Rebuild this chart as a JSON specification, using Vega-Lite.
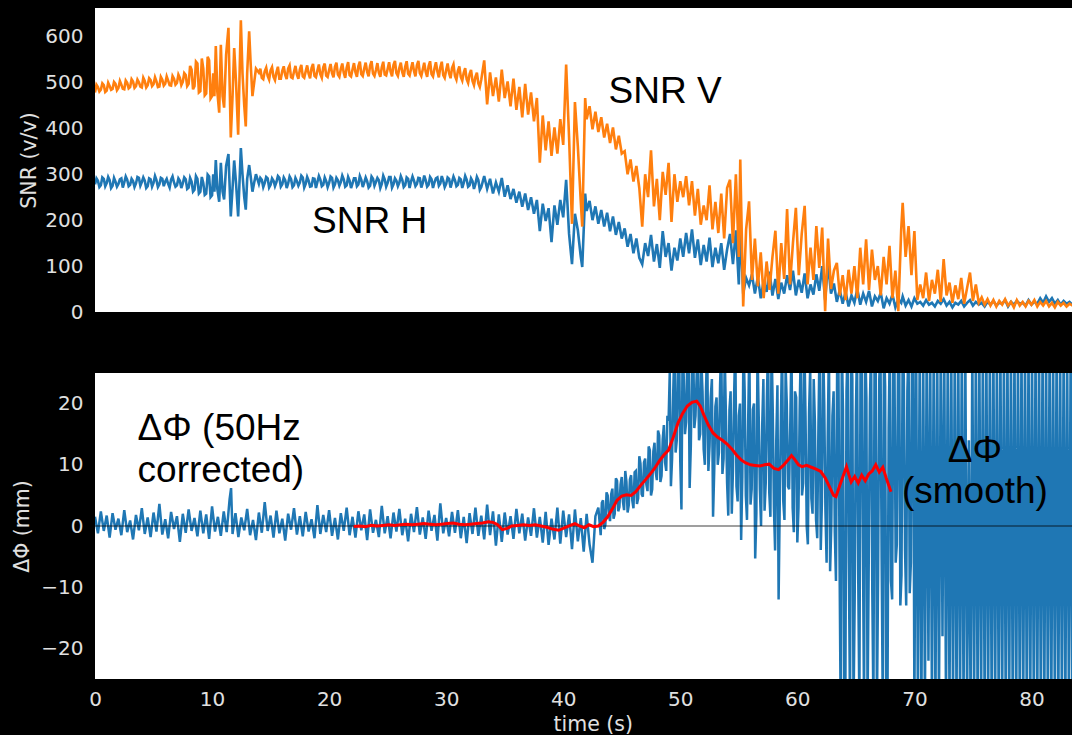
{
  "$schema": "https://vega.github.io/schema/vega-lite/v6.json",
  "background": "black",
  "padding": {"left": 12, "top": 8, "right": 0, "bottom": 0},
  "spacing": 61,
  "bounds": "flush",
  "config": {
    "view": {"fill": "white", "stroke": null},
    "axis": {
      "labelFont": "DejaVu Sans", "titleFont": "DejaVu Sans",
      "labelColor": "#e0e0e0", "titleColor": "#e0e0e0",
      "labelFontSize": 20, "titleFontSize": 20.5, "titleFontWeight": "normal",
      "grid": false, "ticks": false, "tickSize": 0, "domain": false, "labelFlush": false
    }
  },
  "datasets": {
    "snr": [
      {"t":0,"h":278,"v":478},{"t":0.25,"h":286,"v":490},{"t":0.5,"h":276,"v":484},{"t":0.75,"h":290,"v":494},{"t":1,"h":281,"v":482},{"t":1.25,"h":287,"v":492},{"t":1.5,"h":275,"v":486},{"t":1.75,"h":284,"v":497},{"t":2,"h":279,"v":488},{"t":2.25,"h":291,"v":495},{"t":2.5,"h":282,"v":485},{"t":2.75,"h":288,"v":499},{"t":3,"h":277,"v":490},{"t":3.25,"h":285,"v":502},{"t":3.5,"h":280,"v":492},{"t":3.75,"h":292,"v":500},{"t":4,"h":283,"v":489},{"t":4.25,"h":286,"v":503},{"t":4.5,"h":274,"v":494},{"t":4.75,"h":289,"v":505},{"t":5,"h":281,"v":496},{"t":5.25,"h":287,"v":502},{"t":5.5,"h":278,"v":491},{"t":5.75,"h":290,"v":506},{"t":6,"h":284,"v":497},{"t":6.25,"h":279,"v":504},{"t":6.5,"h":288,"v":493},{"t":6.75,"h":282,"v":508},{"t":7,"h":276,"v":499},{"t":7.25,"h":286,"v":510},{"t":7.5,"h":280,"v":501},{"t":7.75,"h":289,"v":516},{"t":8,"h":271,"v":497},{"t":8.25,"h":284,"v":528},{"t":8.5,"h":266,"v":492},{"t":8.75,"h":290,"v":541},{"t":9,"h":262,"v":481},{"t":9.25,"h":281,"v":530},{"t":9.5,"h":258,"v":476},{"t":9.75,"h":295,"v":548},{"t":10,"h":254,"v":470},
      {"t":10.1,"h":300,"v":520},{"t":10.2,"h":262,"v":470},{"t":10.32,"h":331,"v":579},{"t":10.45,"h":268,"v":480},{"t":10.61,"h":240,"v":434},{"t":10.75,"h":325,"v":582},{"t":10.9,"h":262,"v":470},{"t":11.03,"h":245,"v":445},{"t":11.2,"h":318,"v":560},{"t":11.4,"h":344,"v":619},{"t":11.6,"h":208,"v":380},{"t":11.75,"h":270,"v":470},{"t":11.89,"h":330,"v":575},{"t":12.05,"h":280,"v":500},{"t":12.23,"h":208,"v":386},{"t":12.46,"h":357,"v":635},{"t":12.6,"h":300,"v":520},{"t":12.75,"h":250,"v":450},{"t":12.88,"h":223,"v":404},{"t":13,"h":290,"v":520},{"t":13.17,"h":320,"v":611},{"t":13.3,"h":295,"v":540},{"t":13.45,"h":262,"v":470},{"t":13.6,"h":282,"v":500},{"t":13.75,"h":300,"v":530},
      {"t":14,"h":279,"v":521},{"t":14.25,"h":288,"v":510},{"t":14.5,"h":281,"v":524},{"t":14.75,"h":291,"v":514},{"t":15,"h":277,"v":526},{"t":15.25,"h":286,"v":512},{"t":15.5,"h":283,"v":522},{"t":15.75,"h":292,"v":508},{"t":16,"h":278,"v":525},{"t":16.25,"h":287,"v":516},{"t":16.5,"h":280,"v":530},{"t":16.75,"h":289,"v":511},{"t":17,"h":276,"v":523},{"t":17.25,"h":285,"v":517},{"t":17.5,"h":282,"v":528},{"t":17.75,"h":293,"v":513},{"t":18,"h":279,"v":524},{"t":18.25,"h":286,"v":519},{"t":18.5,"h":274,"v":531},{"t":18.75,"h":290,"v":514},{"t":19,"h":283,"v":526},{"t":19.25,"h":288,"v":518},{"t":19.5,"h":277,"v":533},{"t":19.75,"h":285,"v":515},{"t":20,"h":281,"v":527},{"t":20.25,"h":292,"v":520},{"t":20.5,"h":278,"v":534},{"t":20.75,"h":287,"v":517},{"t":21,"h":283,"v":529},{"t":21.25,"h":289,"v":521},{"t":21.5,"h":276,"v":532},{"t":21.75,"h":286,"v":516},{"t":22,"h":280,"v":528},{"t":22.25,"h":291,"v":522},{"t":22.5,"h":278,"v":535},{"t":22.75,"h":288,"v":518},{"t":23,"h":282,"v":530},{"t":23.25,"h":285,"v":523},{"t":23.5,"h":275,"v":536},{"t":23.75,"h":290,"v":519},{"t":24,"h":283,"v":527},{"t":24.25,"h":287,"v":521},{"t":24.5,"h":279,"v":533},{"t":24.75,"h":289,"v":517},{"t":25,"h":281,"v":529},{"t":25.25,"h":294,"v":524},{"t":25.5,"h":278,"v":538},{"t":25.75,"h":286,"v":520},{"t":26,"h":282,"v":531},{"t":26.25,"h":288,"v":522},{"t":26.5,"h":276,"v":534},{"t":26.75,"h":290,"v":519},{"t":27,"h":284,"v":530},{"t":27.25,"h":286,"v":525},{"t":27.5,"h":279,"v":537},{"t":27.75,"h":291,"v":520},{"t":28,"h":281,"v":528},{"t":28.25,"h":287,"v":523},{"t":28.5,"h":277,"v":535},{"t":28.75,"h":289,"v":518},{"t":29,"h":282,"v":530},{"t":29.25,"h":293,"v":524},{"t":29.5,"h":280,"v":533},{"t":29.75,"h":286,"v":516},{"t":30,"h":279,"v":527},{"t":30.25,"h":290,"v":520},{"t":30.5,"h":283,"v":531},{"t":30.75,"h":287,"v":514},{"t":31,"h":277,"v":525},{"t":31.25,"h":289,"v":512},{"t":31.5,"h":281,"v":521},{"t":31.75,"h":288,"v":507},{"t":32,"h":276,"v":518},{"t":32.25,"h":285,"v":503},{"t":32.5,"h":279,"v":512},{"t":32.75,"h":287,"v":498},{"t":33,"h":272,"v":506},
      {"t":33.25,"h":296,"v":548},{"t":33.5,"h":268,"v":452},{"t":33.75,"h":290,"v":522},{"t":34,"h":258,"v":470},{"t":34.25,"h":282,"v":511},{"t":34.5,"h":262,"v":458},{"t":34.75,"h":292,"v":528},{"t":35,"h":251,"v":466},{"t":35.25,"h":276,"v":502},{"t":35.5,"h":246,"v":448},{"t":35.75,"h":268,"v":508},{"t":36,"h":238,"v":440},{"t":36.25,"h":262,"v":490},{"t":36.5,"h":229,"v":424},{"t":36.75,"h":258,"v":497},{"t":37,"h":222,"v":430},{"t":37.25,"h":250,"v":478},{"t":37.5,"h":214,"v":415},{"t":37.75,"h":244,"v":466},{"t":38,"h":176,"v":325},{"t":38.25,"h":236,"v":428},{"t":38.5,"h":198,"v":352},{"t":38.75,"h":226,"v":415},{"t":39,"h":152,"v":340},{"t":39.25,"h":232,"v":402},{"t":39.5,"h":190,"v":345},{"t":39.75,"h":244,"v":420},{"t":40,"h":206,"v":364},{"t":40.25,"h":288,"v":539},{"t":40.5,"h":170,"v":380},{"t":40.75,"h":104,"v":192},{"t":41,"h":214,"v":457},{"t":41.25,"h":178,"v":360},{"t":41.5,"h":120,"v":240},{"t":41.625,"h":98,"v":186},{"t":41.875,"h":258,"v":466},{"t":42,"h":220,"v":420},{"t":42.25,"h":242,"v":448},{"t":42.5,"h":200,"v":398},{"t":42.75,"h":230,"v":436},{"t":43,"h":192,"v":392},{"t":43.25,"h":222,"v":424},{"t":43.5,"h":186,"v":380},{"t":43.75,"h":216,"v":410},{"t":44,"h":176,"v":368},{"t":44.25,"h":208,"v":402},{"t":44.5,"h":168,"v":354},{"t":44.75,"h":196,"v":384},{"t":45,"h":160,"v":345},{"t":45.25,"h":182,"v":350},{"t":45.5,"h":142,"v":300},{"t":45.75,"h":170,"v":332},{"t":46,"h":128,"v":284},{"t":46.25,"h":160,"v":318},{"t":46.5,"h":118,"v":270},{"t":46.75,"h":104,"v":186},{"t":47,"h":150,"v":300},{"t":47.25,"h":122,"v":250},{"t":47.5,"h":168,"v":352},{"t":47.75,"h":110,"v":230},{"t":48,"h":148,"v":290},{"t":48.25,"h":96,"v":200},{"t":48.5,"h":176,"v":305},{"t":48.75,"h":120,"v":255},{"t":49,"h":150,"v":325},{"t":49.25,"h":90,"v":196},{"t":49.5,"h":140,"v":300},{"t":49.75,"h":112,"v":240},{"t":50,"h":160,"v":285},
      {"t":50.25,"h":120,"v":250},{"t":50.5,"h":172,"v":296},{"t":50.75,"h":128,"v":232},{"t":51,"h":180,"v":285},{"t":51.25,"h":118,"v":210},{"t":51.5,"h":158,"v":268},{"t":51.75,"h":102,"v":190},{"t":52,"h":146,"v":232},{"t":52.25,"h":110,"v":200},{"t":52.5,"h":162,"v":276},{"t":52.75,"h":98,"v":180},{"t":53,"h":140,"v":240},{"t":53.25,"h":106,"v":172},{"t":53.5,"h":150,"v":258},{"t":53.75,"h":92,"v":160},{"t":54,"h":136,"v":270},{"t":54.25,"h":170,"v":288},{"t":54.5,"h":104,"v":150},{"t":54.75,"h":178,"v":300},{"t":55,"h":60,"v":120},{"t":55.125,"h":190,"v":332},{"t":55.375,"h":40,"v":12},{"t":55.625,"h":74,"v":180},{"t":55.875,"h":58,"v":241},{"t":56.125,"h":82,"v":70},{"t":56.375,"h":40,"v":160},{"t":56.625,"h":76,"v":56},{"t":56.875,"h":30,"v":130},{"t":57.125,"h":68,"v":30},{"t":57.375,"h":44,"v":110},{"t":57.625,"h":88,"v":48},{"t":57.875,"h":36,"v":120},{"t":58.125,"h":72,"v":177},{"t":58.375,"h":28,"v":40},{"t":58.625,"h":64,"v":150},{"t":58.875,"h":40,"v":72},{"t":59.125,"h":80,"v":224},{"t":59.375,"h":48,"v":60},{"t":59.625,"h":90,"v":150},{"t":59.875,"h":36,"v":227},{"t":60.125,"h":70,"v":80},{"t":60.375,"h":42,"v":170},{"t":60.625,"h":84,"v":231},{"t":60.875,"h":30,"v":60},{"t":61.125,"h":60,"v":140},{"t":61.375,"h":38,"v":70},{"t":61.625,"h":82,"v":187},{"t":61.875,"h":46,"v":96},{"t":62.125,"h":100,"v":184},{"t":62.375,"h":26,"v":2},{"t":62.625,"h":106,"v":160},{"t":62.875,"h":40,"v":50},{"t":63.125,"h":62,"v":90},{"t":63.375,"h":22,"v":107},{"t":63.625,"h":48,"v":36},{"t":63.875,"h":18,"v":80},{"t":64.125,"h":44,"v":26},{"t":64.375,"h":12,"v":92},{"t":64.625,"h":36,"v":40},{"t":64.875,"h":20,"v":100},{"t":65.125,"h":50,"v":30},{"t":65.375,"h":16,"v":140},{"t":65.625,"h":40,"v":60},{"t":65.875,"h":22,"v":158},{"t":66.125,"h":46,"v":48},{"t":66.375,"h":12,"v":136},{"t":66.625,"h":34,"v":70},{"t":66.875,"h":24,"v":100},{"t":67.125,"h":42,"v":36},{"t":67.375,"h":8,"v":120},{"t":67.625,"h":30,"v":60},{"t":67.875,"h":18,"v":144},{"t":68.125,"h":38,"v":30},{"t":68.375,"h":10,"v":90},{"t":68.625,"h":28,"v":2},{"t":68.875,"h":20,"v":180},{"t":69,"h":34,"v":238},{"t":69.25,"h":14,"v":120},{"t":69.5,"h":26,"v":187},{"t":69.75,"h":12,"v":80},{"t":70,"h":30,"v":176},{"t":70.25,"h":18,"v":26},
      {"t":70.5,"h":22,"v":60},{"t":70.75,"h":14,"v":30},{"t":71,"h":26,"v":86},{"t":71.25,"h":16,"v":24},{"t":71.5,"h":20,"v":70},{"t":71.75,"h":12,"v":40},{"t":72,"h":24,"v":92},{"t":72.25,"h":18,"v":22},{"t":72.5,"h":28,"v":115},{"t":72.75,"h":14,"v":36},{"t":73,"h":22,"v":64},{"t":73.25,"h":10,"v":20},{"t":73.5,"h":20,"v":58},{"t":73.75,"h":16,"v":28},{"t":74,"h":24,"v":74},{"t":74.25,"h":12,"v":18},{"t":74.5,"h":20,"v":52},{"t":74.75,"h":26,"v":86},{"t":75,"h":14,"v":24},{"t":75.25,"h":22,"v":60},{"t":75.5,"h":16,"v":20},{"t":75.75,"h":20,"v":32},{"t":76,"h":12,"v":16},{"t":76.25,"h":22,"v":28},{"t":76.5,"h":16,"v":14},{"t":76.75,"h":24,"v":26},{"t":77,"h":14,"v":12},{"t":77.25,"h":20,"v":24},{"t":77.5,"h":18,"v":16},{"t":77.75,"h":26,"v":28},{"t":78,"h":12,"v":14},{"t":78.25,"h":22,"v":22},{"t":78.5,"h":16,"v":10},{"t":78.75,"h":24,"v":26},{"t":79,"h":18,"v":14},{"t":79.25,"h":20,"v":22},{"t":79.5,"h":14,"v":12},{"t":79.75,"h":26,"v":24},{"t":80,"h":16,"v":16},{"t":80.25,"h":22,"v":26},{"t":80.5,"h":18,"v":12},{"t":80.75,"h":30,"v":22},{"t":81,"h":20,"v":14},{"t":81.25,"h":34,"v":24},{"t":81.5,"h":22,"v":12},{"t":81.75,"h":30,"v":20},{"t":82,"h":18,"v":10},{"t":82.25,"h":26,"v":22},{"t":82.5,"h":16,"v":14},{"t":82.75,"h":24,"v":20},{"t":83,"h":18,"v":12},{"t":83.25,"h":22,"v":18},{"t":83.5,"h":16,"v":14},{"t":83.75,"h":20,"v":16},
      {"t":0.125,"h":291,"v":495},{"t":0.375,"h":272,"v":480},{"t":0.625,"h":293,"v":498},{"t":0.875,"h":274,"v":479},{"t":1.125,"h":294,"v":499},{"t":1.375,"h":270,"v":484},{"t":1.625,"h":292,"v":501},{"t":1.875,"h":273,"v":483},{"t":2.125,"h":289,"v":503},{"t":2.375,"h":271,"v":486},{"t":2.625,"h":295,"v":504},{"t":2.875,"h":274,"v":487},{"t":3.125,"h":290,"v":507},{"t":3.375,"h":272,"v":488},{"t":3.625,"h":294,"v":506},{"t":3.875,"h":275,"v":491},{"t":4.125,"h":293,"v":510},{"t":4.375,"h":270,"v":489},{"t":4.625,"h":291,"v":509},{"t":4.875,"h":273,"v":492},{"t":5.125,"h":296,"v":511},{"t":5.375,"h":272,"v":490},{"t":5.625,"h":292,"v":512},{"t":5.875,"h":274,"v":493},{"t":6.125,"h":290,"v":513},{"t":6.375,"h":271,"v":494},{"t":6.625,"h":295,"v":514},{"t":6.875,"h":273,"v":495},{"t":7.125,"h":291,"v":517},{"t":7.375,"h":270,"v":494},{"t":7.625,"h":293,"v":520},{"t":7.875,"h":268,"v":492},{"t":8.125,"h":292,"v":536},{"t":8.375,"h":262,"v":485},{"t":8.625,"h":296,"v":545},{"t":8.875,"h":258,"v":478},{"t":9.125,"h":294,"v":552},{"t":9.375,"h":255,"v":472},{"t":9.625,"h":299,"v":556},{"t":9.875,"h":250,"v":465},
      {"t":14.125,"h":292,"v":530},{"t":14.375,"h":272,"v":507},{"t":14.625,"h":294,"v":532},{"t":14.875,"h":271,"v":506},{"t":15.125,"h":291,"v":533},{"t":15.375,"h":274,"v":505},{"t":15.625,"h":296,"v":534},{"t":15.875,"h":273,"v":508},{"t":16.125,"h":293,"v":535},{"t":16.375,"h":270,"v":507},{"t":16.625,"h":295,"v":537},{"t":16.875,"h":272,"v":509},{"t":17.125,"h":292,"v":536},{"t":17.375,"h":275,"v":508},{"t":17.625,"h":297,"v":538},{"t":17.875,"h":271,"v":510},{"t":18.125,"h":294,"v":537},{"t":18.375,"h":273,"v":509},{"t":18.625,"h":291,"v":540},{"t":18.875,"h":270,"v":511},{"t":19.125,"h":296,"v":539},{"t":19.375,"h":274,"v":510},{"t":19.625,"h":293,"v":541},{"t":19.875,"h":272,"v":512},{"t":20.125,"h":295,"v":540},{"t":20.375,"h":271,"v":511},{"t":20.625,"h":292,"v":543},{"t":20.875,"h":275,"v":512},{"t":21.125,"h":297,"v":541},{"t":21.375,"h":273,"v":510},{"t":21.625,"h":294,"v":544},{"t":21.875,"h":270,"v":513},{"t":22.125,"h":291,"v":542},{"t":22.375,"h":274,"v":512},{"t":22.625,"h":296,"v":545},{"t":22.875,"h":272,"v":514},{"t":23.125,"h":293,"v":543},{"t":23.375,"h":271,"v":513},{"t":23.625,"h":295,"v":546},{"t":23.875,"h":275,"v":514},{"t":24.125,"h":292,"v":542},{"t":24.375,"h":270,"v":512},{"t":24.625,"h":297,"v":545},{"t":24.875,"h":273,"v":515},{"t":25.125,"h":294,"v":544},{"t":25.375,"h":271,"v":513},{"t":25.625,"h":291,"v":547},{"t":25.875,"h":274,"v":514},{"t":26.125,"h":296,"v":543},{"t":26.375,"h":272,"v":512},{"t":26.625,"h":293,"v":546},{"t":26.875,"h":270,"v":515},{"t":27.125,"h":295,"v":544},{"t":27.375,"h":274,"v":513},{"t":27.625,"h":292,"v":547},{"t":27.875,"h":271,"v":514},{"t":28.125,"h":297,"v":543},{"t":28.375,"h":273,"v":512},{"t":28.625,"h":294,"v":546},{"t":28.875,"h":270,"v":513},{"t":29.125,"h":291,"v":544},{"t":29.375,"h":275,"v":511},{"t":29.625,"h":296,"v":545},{"t":29.875,"h":272,"v":510},{"t":30.125,"h":293,"v":541},{"t":30.375,"h":271,"v":509},{"t":30.625,"h":295,"v":539},{"t":30.875,"h":274,"v":506},{"t":31.125,"h":292,"v":535},{"t":31.375,"h":270,"v":504},{"t":31.625,"h":296,"v":531},{"t":31.875,"h":273,"v":499},{"t":32.125,"h":291,"v":527},{"t":32.375,"h":268,"v":494},{"t":32.625,"h":294,"v":521},{"t":32.875,"h":266,"v":490}
    ],
    "phi": [
      {"t":0,"p":1.5},{"t":0.25,"p":-1.2},{"t":0.5,"p":2.4},{"t":0.75,"p":-0.8},{"t":1,"p":1.7},{"t":1.25,"p":-1.9},{"t":1.5,"p":2.1},{"t":1.75,"p":-0.6},{"t":2,"p":1.2},{"t":2.25,"p":-1.5},{"t":2.5,"p":2.6},{"t":2.75,"p":-1},{"t":3,"p":0.9},{"t":3.25,"p":-2.2},{"t":3.5,"p":1.8},{"t":3.75,"p":-0.7},{"t":4,"p":2.9},{"t":4.25,"p":-1.3},{"t":4.5,"p":1.4},{"t":4.75,"p":-1.8},{"t":5,"p":2.2},{"t":5.25,"p":-0.9},{"t":5.5,"p":3.6},{"t":5.75,"p":-1.4},{"t":6,"p":1.1},{"t":6.25,"p":-2},{"t":6.5,"p":2.3},{"t":6.75,"p":-0.5},{"t":7,"p":1.6},{"t":7.25,"p":-2.6},{"t":7.5,"p":2},{"t":7.75,"p":-1.1},{"t":8,"p":2.7},{"t":8.25,"p":-0.8},{"t":8.5,"p":1.3},{"t":8.75,"p":-1.7},{"t":9,"p":2.5},{"t":9.25,"p":-1.2},{"t":9.5,"p":1.9},{"t":9.75,"p":-2.1},{"t":10,"p":3.2},{"t":10.25,"p":-0.9},{"t":10.5,"p":1.5},{"t":10.75,"p":-1.6},{"t":11,"p":2.4},{"t":11.25,"p":-1},{"t":11.5,"p":4.4},{"t":11.625,"p":6.2},{"t":11.75,"p":-1.3},{"t":12,"p":2.1},{"t":12.25,"p":-1.8},{"t":12.5,"p":1.4},{"t":12.75,"p":-0.7},{"t":13,"p":2.8},{"t":13.25,"p":-1.5},{"t":13.5,"p":1},{"t":13.75,"p":-2.3},{"t":14,"p":2.2},{"t":14.25,"p":-1.1},{"t":14.5,"p":3.9},{"t":14.75,"p":-0.8},{"t":15,"p":1.7},{"t":15.25,"p":-1.9},{"t":15.5,"p":2.5},{"t":15.75,"p":-1.2},{"t":16,"p":1.2},{"t":16.25,"p":-2.4},{"t":16.5,"p":2},{"t":16.75,"p":-0.6},{"t":17,"p":2.9},{"t":17.25,"p":-1.4},{"t":17.5,"p":1.6},{"t":17.75,"p":-1.7},{"t":18,"p":2.3},{"t":18.25,"p":-0.9},{"t":18.5,"p":1.1},{"t":18.75,"p":-2},{"t":19,"p":3.4},{"t":19.25,"p":-1.3},{"t":19.5,"p":1.8},{"t":19.75,"p":-1},{"t":20,"p":2.6},{"t":20.25,"p":-1.6},{"t":20.5,"p":1.3},{"t":20.75,"p":-2.2},{"t":21,"p":2.1},{"t":21.25,"p":-0.8},{"t":21.5,"p":3},{"t":21.75,"p":-1.5},{"t":22,"p":1.5},{"t":22.25,"p":-1.9},{"t":22.5,"p":2.4},{"t":22.75,"p":-0.7},{"t":23,"p":1.9},{"t":23.25,"p":-2.3},{"t":23.5,"p":2.7},{"t":23.75,"p":-1.1},{"t":24,"p":1},{"t":24.25,"p":-1.8},{"t":24.5,"p":3.3},{"t":24.75,"p":-1.2},{"t":25,"p":1.6},{"t":25.25,"p":-2},{"t":25.5,"p":2.2},{"t":25.75,"p":-0.9},{"t":26,"p":2.8},{"t":26.25,"p":-1.5},{"t":26.5,"p":1.2},{"t":26.75,"p":-2.5},{"t":27,"p":2},{"t":27.25,"p":-1},{"t":27.5,"p":3.1},{"t":27.75,"p":-1.4},{"t":28,"p":1.4},{"t":28.25,"p":-2.1},{"t":28.5,"p":2.5},{"t":28.75,"p":-0.8},{"t":29,"p":1.8},{"t":29.25,"p":-2.4},{"t":29.5,"p":3.7},{"t":29.75,"p":-1.2},{"t":30,"p":1.3},{"t":30.25,"p":-1.7},{"t":30.5,"p":2.3},{"t":30.75,"p":-1.1},{"t":31,"p":2.6},{"t":31.25,"p":-2},{"t":31.5,"p":1.5},{"t":31.75,"p":-2.8},{"t":32,"p":2.1},{"t":32.25,"p":-1.3},{"t":32.5,"p":3},{"t":32.75,"p":-1.6},{"t":33,"p":1.7},{"t":33.25,"p":-2.2},{"t":33.5,"p":3.5},{"t":33.75,"p":-1.5},{"t":34,"p":2.4},{"t":34.25,"p":-3.2},{"t":34.5,"p":1.9},{"t":34.75,"p":-2.6},{"t":35,"p":2.2},{"t":35.25,"p":-1.4},{"t":35.5,"p":1.6},{"t":35.75,"p":-2.1},{"t":36,"p":2.8},{"t":36.25,"p":-1.2},{"t":36.5,"p":2},{"t":36.75,"p":-2.4},{"t":37,"p":1.4},{"t":37.25,"p":-1.6},{"t":37.5,"p":2.9},{"t":37.75,"p":-1.9},{"t":38,"p":1.5},{"t":38.25,"p":-2.7},{"t":38.5,"p":2.3},{"t":38.75,"p":-3.1},{"t":39,"p":1.2},{"t":39.25,"p":-2.2},{"t":39.5,"p":3},{"t":39.75,"p":-2.9},{"t":40,"p":2.5},{"t":40.25,"p":-1.8},{"t":40.5,"p":1.9},{"t":40.75,"p":-3.8},{"t":41,"p":2.7},{"t":41.25,"p":-2.5},{"t":41.5,"p":1.3},{"t":41.75,"p":-4.2},{"t":42,"p":2},{"t":42.25,"p":-3},{"t":42.5,"p":-6},{"t":42.75,"p":1.6},
      {"t":43,"p":3},{"t":43.2,"p":-1.5},{"t":43.4,"p":4.2},{"t":43.6,"p":0.2},{"t":43.8,"p":5},{"t":44,"p":0.8},{"t":44.2,"p":6.1},{"t":44.4,"p":2},{"t":44.6,"p":7.4},{"t":44.8,"p":3.1},{"t":45,"p":8},{"t":45.2,"p":2.6},{"t":45.4,"p":7.2},{"t":45.6,"p":3.4},{"t":45.8,"p":8.3},{"t":46,"p":2.9},{"t":46.2,"p":9},{"t":46.4,"p":4.5},{"t":46.6,"p":10.2},{"t":46.8,"p":4.8},{"t":47,"p":11},{"t":47.2,"p":5.7},{"t":47.4,"p":12.4},{"t":47.6,"p":6},{"t":47.8,"p":13.6},{"t":48,"p":7.5},{"t":48.2,"p":14.8},{"t":48.4,"p":8.2},{"t":48.6,"p":16.5},{"t":48.8,"p":9},{"t":49,"p":17.2},{"t":49.2,"p":6.5},{"t":49.4,"p":22},{"t":49.6,"p":12},{"t":49.8,"p":27},{"t":50,"p":10.5},{"t":50.2,"p":30},{"t":50.4,"p":15},{"t":50.6,"p":28},{"t":50.8,"p":6.2},{"t":51,"p":26},{"t":51.2,"p":16},{"t":51.4,"p":24.5},{"t":51.6,"p":14},{"t":51.8,"p":27},{"t":52,"p":12.5},{"t":52.2,"p":22.5},{"t":52.4,"p":9},{"t":52.6,"p":21},{"t":52.8,"p":1.5},{"t":53,"p":19.5},{"t":53.2,"p":10},{"t":53.4,"p":23},{"t":53.6,"p":8.5},{"t":53.8,"p":28},{"t":54,"p":7},{"t":54.2,"p":19},{"t":54.4,"p":2},{"t":54.6,"p":21.5},{"t":54.8,"p":6.5},{"t":55,"p":18},{"t":55.2,"p":-2.3},{"t":55.4,"p":30},{"t":55.6,"p":5},{"t":55.8,"p":17},{"t":56,"p":3.5},{"t":56.2,"p":19},{"t":56.4,"p":-5.3},{"t":56.6,"p":29},{"t":56.8,"p":6},{"t":57,"p":16.5},{"t":57.2,"p":2.5},{"t":57.4,"p":21},{"t":57.6,"p":5.5},{"t":57.8,"p":30},{"t":58,"p":3},{"t":58.2,"p":14},{"t":58.4,"p":-12},{"t":58.6,"p":18},{"t":58.8,"p":4},{"t":59,"p":26},{"t":59.2,"p":6.5},{"t":59.4,"p":17},{"t":59.6,"p":3},{"t":59.8,"p":22},{"t":60,"p":-2.7},{"t":60.2,"p":19},{"t":60.4,"p":5},{"t":60.6,"p":30},{"t":60.8,"p":0},{"t":61,"p":18.5},{"t":61.2,"p":4.5},{"t":61.4,"p":24},{"t":61.6,"p":1},{"t":61.8,"p":16},{"t":62,"p":-3.9},{"t":62.2,"p":30},{"t":62.4,"p":2.5},{"t":62.6,"p":15},{"t":62.8,"p":-7.4},{"t":63,"p":18},{"t":63.2,"p":-1},{"t":63.4,"p":26},{"t":63.6,"p":-4},{"t":63.8,"p":30},{"t":64,"p":-30},{"t":64.2,"p":22},{"t":64.4,"p":-6},{"t":64.6,"p":30},{"t":64.8,"p":-30},{"t":65,"p":18},{"t":65.2,"p":-8},{"t":65.4,"p":28},{"t":65.6,"p":-2},{"t":65.8,"p":30},{"t":66,"p":-30},{"t":66.2,"p":20},{"t":66.4,"p":-10},{"t":66.6,"p":30},{"t":66.8,"p":-30},{"t":67,"p":24},{"t":67.2,"p":-5},{"t":67.4,"p":30},{"t":67.6,"p":-30},{"t":67.8,"p":16},{"t":68,"p":-9},{"t":68.2,"p":30},{"t":68.4,"p":-6},{"t":68.6,"p":26},{"t":68.8,"p":-13},{"t":69,"p":30},{"t":69.2,"p":-4},{"t":69.4,"p":22},{"t":69.6,"p":-11},{"t":69.8,"p":30},
      {"t":70,"p":-30},{"t":70.15,"p":30},{"t":70.3,"p":-30},{"t":70.45,"p":28},{"t":70.6,"p":-30},{"t":70.75,"p":30},{"t":70.9,"p":-30},{"t":71.05,"p":30},{"t":71.2,"p":-22},{"t":71.35,"p":30},{"t":71.5,"p":-30},{"t":71.65,"p":30},{"t":71.8,"p":-30},{"t":71.95,"p":30},{"t":72.1,"p":-30},{"t":72.25,"p":30},{"t":72.4,"p":-18},{"t":72.55,"p":30},{"t":72.7,"p":-30},{"t":72.85,"p":30},{"t":73,"p":-30},{"t":73.15,"p":30},{"t":73.3,"p":-30},{"t":73.45,"p":30},{"t":73.6,"p":-30},{"t":73.75,"p":30},{"t":73.9,"p":-30},{"t":74.05,"p":30},{"t":74.2,"p":-30},{"t":74.35,"p":30},{"t":74.5,"p":-30},{"t":74.65,"p":14},{"t":74.8,"p":-30},{"t":74.95,"p":30},{"t":75.1,"p":-30},{"t":75.25,"p":30},{"t":75.4,"p":-30},{"t":75.55,"p":30},{"t":75.7,"p":-30},{"t":75.85,"p":30},{"t":76,"p":-30},{"t":76.15,"p":30},{"t":76.3,"p":-30},{"t":76.45,"p":30},{"t":76.6,"p":-30},{"t":76.75,"p":30},{"t":76.9,"p":-30},{"t":77.05,"p":30},{"t":77.2,"p":-30},{"t":77.35,"p":30},{"t":77.5,"p":-30},{"t":77.65,"p":30},{"t":77.8,"p":-30},{"t":77.95,"p":30},{"t":78.1,"p":-30},{"t":78.25,"p":30},{"t":78.4,"p":-30},{"t":78.55,"p":30},{"t":78.7,"p":-30},{"t":78.85,"p":30},{"t":79,"p":-30},{"t":79.15,"p":30},{"t":79.3,"p":-30},{"t":79.45,"p":30},{"t":79.6,"p":-30},{"t":79.75,"p":30},{"t":79.9,"p":-30},{"t":80.05,"p":30},{"t":80.2,"p":-30},{"t":80.35,"p":30},{"t":80.5,"p":-30},{"t":80.65,"p":30},{"t":80.8,"p":-30},{"t":80.95,"p":30},{"t":81.1,"p":-30},{"t":81.25,"p":30},{"t":81.4,"p":-30},{"t":81.55,"p":30},{"t":81.7,"p":-30},{"t":81.85,"p":30},{"t":82,"p":-30},{"t":82.15,"p":30},{"t":82.3,"p":-30},{"t":82.45,"p":30},{"t":82.6,"p":-30},{"t":82.75,"p":30},{"t":82.9,"p":-30},{"t":83.05,"p":30},{"t":83.2,"p":-30},{"t":83.35,"p":30},{"t":83.5,"p":-30},{"t":83.65,"p":30},
      {"t":43.1,"p":0.8},{"t":43.3,"p":3.8},{"t":43.5,"p":-0.5},{"t":43.7,"p":5.5},{"t":43.9,"p":1.8},{"t":44.1,"p":5.2},{"t":44.3,"p":1.2},{"t":44.5,"p":7.8},{"t":44.7,"p":2.4},{"t":44.9,"p":6.8},{"t":45.1,"p":4},{"t":45.3,"p":9},{"t":45.5,"p":2.2},{"t":45.7,"p":7.6},{"t":45.9,"p":4.2},{"t":46.1,"p":8.8},{"t":46.3,"p":3.6},{"t":46.5,"p":11.4},{"t":46.7,"p":5.2},{"t":46.9,"p":10.4},{"t":47.1,"p":6.8},{"t":47.3,"p":13},{"t":47.5,"p":5},{"t":47.7,"p":12.2},{"t":47.9,"p":8.8},{"t":48.1,"p":15.6},{"t":48.3,"p":7.2},{"t":48.5,"p":14.2},{"t":48.7,"p":10.4},{"t":48.9,"p":18},
      {"t":49.1,"p":25},{"t":49.3,"p":11},{"t":49.5,"p":30},{"t":49.7,"p":14},{"t":49.9,"p":30},{"t":50.1,"p":2.7},{"t":50.3,"p":24},{"t":50.5,"p":17},{"t":50.7,"p":30},{"t":50.9,"p":13},{"t":51.1,"p":30},{"t":51.3,"p":18},{"t":51.5,"p":30},{"t":51.7,"p":15},{"t":51.9,"p":22},{"t":52.1,"p":10},{"t":52.3,"p":30},{"t":52.5,"p":13},{"t":52.7,"p":24},{"t":52.9,"p":9},{"t":53.1,"p":21},{"t":53.3,"p":12},{"t":53.5,"p":30},{"t":53.7,"p":11},{"t":53.9,"p":18},{"t":54.1,"p":1.7},{"t":54.3,"p":22},{"t":54.5,"p":9},{"t":54.7,"p":30},{"t":54.9,"p":4},{"t":55.1,"p":20},{"t":55.3,"p":8},{"t":55.5,"p":22},{"t":55.7,"p":1},{"t":55.9,"p":30},{"t":56.1,"p":6},{"t":56.3,"p":20},{"t":56.5,"p":2},{"t":56.7,"p":18},{"t":56.9,"p":0},{"t":57.1,"p":24},{"t":57.3,"p":7},{"t":57.5,"p":30},{"t":57.7,"p":1.5},{"t":57.9,"p":19},{"t":58.1,"p":-4},{"t":58.3,"p":23},{"t":58.5,"p":4},{"t":58.7,"p":30},{"t":58.9,"p":1},{"t":59.1,"p":20},{"t":59.3,"p":6},{"t":59.5,"p":30},{"t":59.7,"p":-1},{"t":59.9,"p":21},{"t":60.1,"p":3},{"t":60.3,"p":30},{"t":60.5,"p":7},{"t":60.7,"p":18},{"t":60.9,"p":-3},{"t":61.1,"p":26},{"t":61.3,"p":2},{"t":61.5,"p":17},{"t":61.7,"p":-2},{"t":61.9,"p":30},{"t":62.1,"p":4},{"t":62.3,"p":20},{"t":62.5,"p":-6},{"t":62.7,"p":30},{"t":62.9,"p":0},{"t":63.1,"p":22},{"t":63.3,"p":-9},{"t":63.5,"p":30},{"t":63.7,"p":-30},{"t":63.9,"p":19},{"t":64.1,"p":-30},{"t":64.3,"p":30},{"t":64.5,"p":-30},{"t":64.7,"p":24},{"t":64.9,"p":-12},{"t":65.1,"p":30},{"t":65.3,"p":-30},{"t":65.5,"p":30},{"t":65.7,"p":-30},{"t":65.9,"p":21},{"t":66.1,"p":-6},{"t":66.3,"p":30},{"t":66.5,"p":-30},{"t":66.7,"p":26},{"t":66.9,"p":-8},{"t":67.1,"p":30},{"t":67.3,"p":-30},{"t":67.5,"p":23},{"t":67.7,"p":-30},{"t":67.9,"p":30},{"t":68.1,"p":-12},{"t":68.3,"p":26},{"t":68.5,"p":-3},{"t":68.7,"p":30},{"t":68.9,"p":-8},{"t":69.1,"p":24},{"t":69.3,"p":-13},{"t":69.5,"p":30},{"t":69.7,"p":-6},{"t":69.9,"p":28}
    ],
    "smooth": [
      {"t":22.1,"p":-0.1},{"t":22.6,"p":0},{"t":23.1,"p":-0.1},{"t":23.6,"p":0.1},{"t":24.1,"p":0},{"t":24.6,"p":0.1},{"t":25.1,"p":0.2},{"t":25.6,"p":0.1},{"t":26.1,"p":0.2},{"t":26.6,"p":0.3},{"t":27.1,"p":0.2},{"t":27.6,"p":0.3},{"t":28.1,"p":0.4},{"t":28.6,"p":0.3},{"t":29.1,"p":0.2},{"t":29.6,"p":0.3},{"t":30.1,"p":0.4},{"t":30.6,"p":0.5},{"t":31.1,"p":0.3},{"t":31.6,"p":0.2},{"t":32.1,"p":0.3},{"t":32.6,"p":0.4},{"t":33.1,"p":0.5},{"t":33.6,"p":0.7},{"t":34,"p":0.6},{"t":34.4,"p":0.2},{"t":34.8,"p":-0.6},{"t":35.2,"p":-0.4},{"t":35.6,"p":0},{"t":36.1,"p":0.1},{"t":36.6,"p":0.2},{"t":37.1,"p":0.1},{"t":37.6,"p":0.2},{"t":38.1,"p":0},{"t":38.6,"p":-0.2},{"t":39.1,"p":-0.5},{"t":39.6,"p":-0.7},{"t":40.1,"p":-0.3},{"t":40.6,"p":0.1},{"t":41,"p":0.4},{"t":41.4,"p":0},{"t":41.8,"p":-0.3},{"t":42.2,"p":0.2},{"t":42.6,"p":-0.1},{"t":43,"p":0},{"t":43.4,"p":0.6},{"t":43.8,"p":1.5},{"t":44.2,"p":2.8},{"t":44.6,"p":4.2},{"t":45,"p":4.9},{"t":45.4,"p":5.1},{"t":45.8,"p":5},{"t":46.2,"p":5.6},{"t":46.6,"p":6.6},{"t":47,"p":7.5},{"t":47.4,"p":8.4},{"t":47.8,"p":9.4},{"t":48.2,"p":10.6},{"t":48.6,"p":11.6},{"t":49,"p":12.4},{"t":49.4,"p":14.5},{"t":49.8,"p":16.8},{"t":50.2,"p":18.4},{"t":50.6,"p":19.6},{"t":51,"p":20.2},{"t":51.4,"p":20.4},{"t":51.7,"p":19.6},{"t":52,"p":18.2},{"t":52.4,"p":16.5},{"t":52.8,"p":15.2},{"t":53.2,"p":14.5},{"t":53.6,"p":14},{"t":54,"p":13.4},{"t":54.4,"p":12.6},{"t":54.8,"p":11.6},{"t":55.2,"p":10.8},{"t":55.6,"p":10.3},{"t":56,"p":10},{"t":56.4,"p":9.9},{"t":56.8,"p":9.8},{"t":57.2,"p":10},{"t":57.6,"p":10.1},{"t":58,"p":9.4},{"t":58.4,"p":9.2},{"t":58.8,"p":9.9},{"t":59.2,"p":10.8},{"t":59.5,"p":11.5},{"t":59.8,"p":10.8},{"t":60.1,"p":10},{"t":60.4,"p":9.7},{"t":60.8,"p":9.9},{"t":61.2,"p":9.6},{"t":61.6,"p":9.3},{"t":62,"p":8.9},{"t":62.4,"p":7.8},{"t":62.8,"p":6.2},{"t":63.1,"p":5},{"t":63.3,"p":4.8},{"t":63.6,"p":6.5},{"t":63.9,"p":8.1},{"t":64.2,"p":9.7},{"t":64.4,"p":8.4},{"t":64.6,"p":7.2},{"t":64.9,"p":8.1},{"t":65.2,"p":7},{"t":65.5,"p":8.3},{"t":65.8,"p":7.4},{"t":66.1,"p":8.5},{"t":66.4,"p":9},{"t":66.7,"p":10},{"t":67,"p":8.8},{"t":67.3,"p":9.6},{"t":67.6,"p":7.8},{"t":68,"p":5.6}
    ]
  },
  "vconcat": [
    {
      "width": 978,
      "height": 304,
      "layer": [
        {
          "data": {"name": "snr"},
          "transform": [{"fold": ["h", "v"], "as": ["series", "value"]}],
          "mark": {"type": "line", "strokeWidth": 2.6, "clip": true},
          "encoding": {
            "x": {"field": "t", "type": "quantitative", "scale": {"domain": [0, 83.55], "nice": false, "zero": false}, "axis": null},
            "y": {"field": "value", "type": "quantitative", "scale": {"domain": [0, 662], "nice": false},
                  "axis": {"values": [0, 100, 200, 300, 400, 500, 600], "title": "SNR (v/v)", "titleX": -66, "titleBaseline": "middle", "labelPadding": 12}},
            "color": {"field": "series", "type": "nominal", "scale": {"domain": ["h", "v"], "range": ["#1f77b4", "#ff7f0e"]}, "legend": null}
          }
        },
        {
          "data": {"values": [
            {"t": 48.7, "y": 455, "label": "SNR V"},
            {"t": 23.46, "y": 172, "label": "SNR H"}
          ]},
          "mark": {"type": "text", "font": "Liberation Sans", "fontSize": 37, "color": "black", "align": "center", "baseline": "alphabetic"},
          "encoding": {
            "x": {"field": "t", "type": "quantitative"},
            "y": {"field": "y", "type": "quantitative", "title": "SNR (v/v)"},
            "text": {"field": "label"}
          }
        }
      ]
    },
    {
      "width": 978,
      "height": 306,
      "layer": [
        {
          "data": {"name": "phi"},
          "mark": {"type": "line", "strokeWidth": 2.5, "color": "#1f77b4", "clip": true},
          "encoding": {
            "x": {"field": "t", "type": "quantitative", "scale": {"domain": [0, 83.55], "nice": false, "zero": false},
                  "axis": {"values": [0, 10, 20, 30, 40, 50, 60, 70, 80], "title": "time (s)", "titleX": 497.7, "labelPadding": 10, "titlePadding": 5}},
            "y": {"field": "p", "type": "quantitative", "scale": {"domain": [-25, 25], "nice": false},
                  "axis": {"values": [-20, -10, 0, 10, 20], "title": "ΔΦ (mm)", "titleX": -73, "titleBaseline": "middle", "labelPadding": 12}}
          }
        },
        {
          "data": {"values": [{"p": 0}]},
          "mark": {"type": "rule", "color": "black", "opacity": 0.5, "strokeWidth": 1.5},
          "encoding": {"y": {"field": "p", "type": "quantitative", "title": "ΔΦ (mm)"}}
        },
        {
          "data": {"name": "smooth"},
          "mark": {"type": "line", "strokeWidth": 3, "color": "#ff0000", "clip": true},
          "encoding": {
            "x": {"field": "t", "type": "quantitative", "title": "time (s)"},
            "y": {"field": "p", "type": "quantitative", "title": "ΔΦ (mm)"}
          }
        },
        {
          "data": {"values": [
            {"t": 3.64, "p": 14.06, "label": "ΔΦ (50Hz"},
            {"t": 3.64, "p": 7.26, "label": "corrected)"}
          ]},
          "mark": {"type": "text", "font": "Liberation Sans", "fontSize": 37, "color": "black", "align": "left", "baseline": "alphabetic"},
          "encoding": {
            "x": {"field": "t", "type": "quantitative", "title": "time (s)"},
            "y": {"field": "p", "type": "quantitative", "title": "ΔΦ (mm)"},
            "text": {"field": "label"}
          }
        },
        {
          "data": {"values": [
            {"t": 75.17, "p": 10.5, "label": "ΔΦ"},
            {"t": 75.17, "p": 3.73, "label": "(smooth)"}
          ]},
          "mark": {"type": "text", "font": "Liberation Sans", "fontSize": 37, "color": "black", "align": "center", "baseline": "alphabetic"},
          "encoding": {
            "x": {"field": "t", "type": "quantitative", "title": "time (s)"},
            "y": {"field": "p", "type": "quantitative", "title": "ΔΦ (mm)"},
            "text": {"field": "label"}
          }
        }
      ]
    }
  ]
}
